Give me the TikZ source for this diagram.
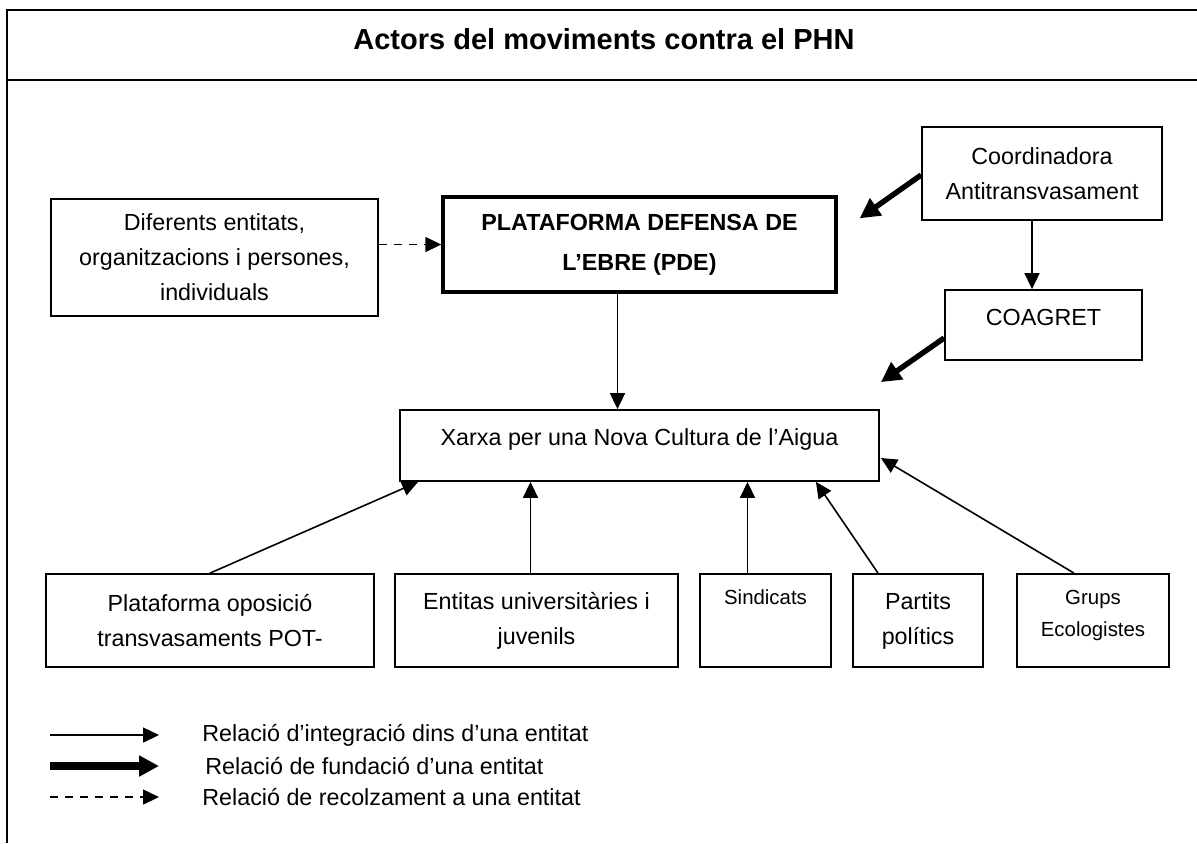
\documentclass[tikz,border=0pt]{standalone}
\usepackage{fontspec}
\setmainfont{Liberation Sans}
\usetikzlibrary{arrows.meta,calc}

\tikzset{
  box/.style={draw, line width=0.9pt, inner sep=0pt, align=center, font=\fontsize{11.65pt}{17.5pt}\selectfont},
  smallbox/.style={box, font=\fontsize{10.2pt}{16pt}\selectfont},
  thinarr/.style={line width=0.8pt, -{Triangle[length=8pt,width=7.5pt]}},
  thickarr/.style={line width=2.7pt, -{Triangle[length=10pt,width=10pt]}},
  legthick/.style={thickarr, line width=3.8pt},
  dasharr/.style={thinarr, dash pattern=on 4pt off 3.5pt},
  legtext/.style={anchor=west, inner sep=0pt, font=\fontsize{11.65pt}{14pt}\selectfont}
}

\begin{document}
\begin{tikzpicture}[x=0.5pt, y=-0.5pt]
    \useasboundingbox (0,0) rectangle (1197,843);
    \draw[line width=0.9pt] (1197,10) -- (7,10) -- (7,843);
    \draw[line width=0.9pt] (7,80) -- (1197,80);
    \node[font=\fontsize{14.5pt}{17pt}\selectfont\bfseries] (title) at (604,39) {Actors del moviments contra el PHN};

    \node[box, minimum width=163.5pt, minimum height=58.5pt] (dif) at (214.5,257.5) {Diferents entitats,\\organitzacions i persones,\\individuals};
    \node[box, line width=1.7pt, font=\fontsize{11.65pt}{20pt}\selectfont\bfseries, minimum width=196.5pt, minimum height=47.5pt] (pde) at (639.5,244.5) {PLATAFORMA DEFENSA DE\\L’EBRE (PDE)};
    \node[box, minimum width=120pt, minimum height=46.5pt] (coord) at (1042,173.5) {Coordinadora\\Antitransvasament};
    \node[box, minimum width=98.5pt, minimum height=35pt, text depth=8pt] (coag) at (1043.5,325) {COAGRET};
    \node[box, minimum width=239.5pt, minimum height=35.5pt, text depth=8.5pt] (xarxa) at (639.5,445.5) {Xarxa per una Nova Cultura de l’Aigua};

    \node[box, minimum width=164pt, minimum height=46.5pt] (plat) at (210,620.5) {Plataforma oposició\\transvasaments POT-};
    \node[box, minimum width=141.5pt, minimum height=46.5pt] (ent) at (536.5,620.5) {Entitas universitàries i\\juvenils};
    \node[smallbox, minimum width=65.5pt, minimum height=46.5pt, text depth=23.5pt] (sind) at (765.5,620.5) {Sindicats};
    \node[box, minimum width=65pt, minimum height=46.5pt] (part) at (918,620.5) {Partits\\polítics};
    \node[smallbox, minimum width=76pt, minimum height=46.5pt, text depth=7.5pt] (grups) at (1093,620.5) {Grups\\Ecologistes};

    \draw[dasharr] (dif.east |- pde.west) -- (pde.west);
    \draw[thickarr] ($(coord.west)+(0,1.5)$) -- ($(pde.north east)+(22,23)$);
    \draw[thinarr] ([xshift=-5pt]coord.south) -- ([xshift=-5pt]coord.south |- coag.north);
    \draw[thickarr] ($(coag.west)+(0,13)$) -- ($(xarxa.north east)+(1,-27)$);
    \draw[thinarr] ([xshift=-11pt]pde.south) -- ([xshift=-11pt]pde.south |- xarxa.north);

    \draw[thinarr] (plat.north) -- ($(xarxa.south west)+(19,0)$);
    \draw[thinarr] ([xshift=-3pt]ent.north) -- ([xshift=-3pt]ent.north |- xarxa.south);
    \draw[thinarr] ([xshift=-9pt]sind.north) -- ([xshift=-9pt]sind.north |- xarxa.south);
    \draw[thinarr] ([xshift=-20pt]part.north) -- ($(xarxa.south east)+(-64,0)$);
    \draw[thinarr] ([xshift=-9.5pt]grups.north) -- ($(xarxa.east)+(1,12.5)$);

    \foreach \x/\y/\sty/\txt [count=\i] in {202/735/thinarr/Relació d’integració dins d’una entitat, 205/766/legthick/Relació de fundació d’una entitat, 202/797/dasharr/Relació de recolzament a una entitat} {
        \node[legtext] (leg\i) at (\x,\y) {\txt};
        \draw[\sty] ($(leg\i.west)+(50-\x,0)$) -- ($(leg\i.west)+(159-\x,0)$);
    }
\end{tikzpicture}
\end{document}
